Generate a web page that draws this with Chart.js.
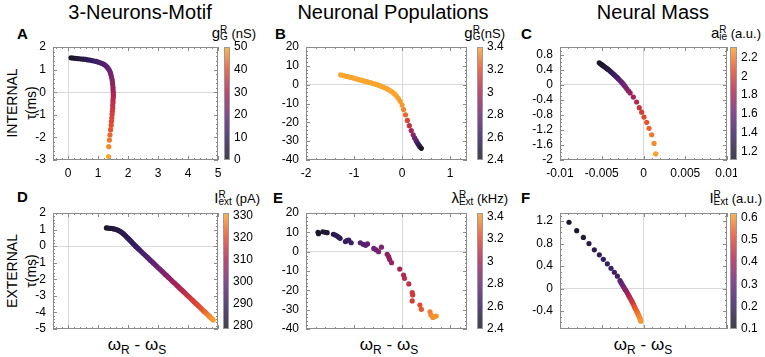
<!DOCTYPE html>
<html>
<head>
<meta charset="utf-8">
<script src="https://cdn.jsdelivr.net/npm/chart.js@4.4.1/dist/chart.umd.min.js"></script>
<style>
  body { margin:0; width:765px; height:357px; position:relative; overflow:hidden; background:#fff;
         font-family:'Liberation Sans', Arial, sans-serif; color:#000; }
  canvas { position:absolute; }
  .ttl { position:absolute; top:2px; font-size:20px; line-height:1; transform:translateX(-50%); white-space:nowrap; }
  .let { position:absolute; font-size:15px; font-weight:bold; line-height:1; }
  .cbl { position:absolute; font-size:13px; line-height:1; white-space:nowrap; }
  .cbl i { font-style:normal; font-size:15px; }
  .ss { display:inline-block; font-size:10px; line-height:7px; vertical-align:-2px; text-align:left; }
  .yl { position:absolute; font-size:14px; line-height:1; white-space:nowrap; transform:translate(-50%,-50%) rotate(-90deg); }
  .xl { position:absolute; top:336px; font-size:17px; line-height:1; white-space:nowrap; transform:translateX(-50%); }
  .xl sub { font-size:12px; vertical-align:-4px; line-height:0; }
</style>
</head>
<body>
<div class="ttl" style="left:140px">3-Neurons-Motif</div>
<div class="ttl" style="left:393px">Neuronal Populations</div>
<div class="ttl" style="left:653px">Neural Mass</div>

<div class="let" style="left:17px;top:26px">A</div>
<div class="let" style="left:275px;top:26px">B</div>
<div class="let" style="left:521px;top:26px">C</div>
<div class="let" style="left:17px;top:189px">D</div>
<div class="let" style="left:273px;top:190px">E</div>
<div class="let" style="left:521px;top:190px">F</div>

<div class="cbl" style="right:509px;top:25px"><i>g</i><span class="ss">R<br>G</span> (nS)</div>
<div class="cbl" style="right:260px;top:25px"><i>g</i><span class="ss">R<br>G</span>(nS)</div>
<div class="cbl" style="right:4px;top:25px"><i>a</i><span class="ss">R<br>ie</span> (a.u.)</div>
<div class="cbl" style="right:505px;top:190px"><i>I</i><span class="ss">R<br>ext</span> (pA)</div>
<div class="cbl" style="right:257px;top:190px"><i>λ</i><span class="ss">R<br>Ext</span> (kHz)</div>
<div class="cbl" style="right:3px;top:190px"><i>I</i><span class="ss">R<br>Ext</span> (a.u.)</div>

<div class="yl" style="left:12px;top:103px">INTERNAL</div>
<div class="yl" style="left:31px;top:103px">τ(ms)</div>
<div class="yl" style="left:12px;top:271px">EXTERNAL</div>
<div class="yl" style="left:31px;top:271px">τ(ms)</div>

<div class="xl" style="left:137px">ω<sub>R</sub> - ω<sub>S</sub></div>
<div class="xl" style="left:389px">ω<sub>R</sub> - ω<sub>S</sub></div>
<div class="xl" style="left:643px">ω<sub>R</sub> - ω<sub>S</sub></div>

<script>
// --- A : 3-neurons motif, internal (colour = g_G^R in nS)
var aX = [0.10,0.17,0.24,0.31,0.38,0.45,0.52,0.59,0.66,0.73,0.80,0.87,0.94,1.01,1.08,1.14,1.20,1.25,1.30,1.34,
          1.38,1.41,1.43,1.45,1.47,1.48,1.49,1.50,1.50,1.51,1.51,1.51,1.50,1.50,1.49,1.49,1.48,1.47,1.46,1.45,
          1.44,1.42,1.40,1.38,1.36,1.35];
var aY = [1.52,1.51,1.50,1.49,1.48,1.47,1.46,1.45,1.43,1.42,1.40,1.38,1.36,1.33,1.30,1.27,1.23,1.18,1.12,1.05,
          0.97,0.88,0.78,0.67,0.56,0.45,0.34,0.22,0.11,0.00,-0.11,-0.22,-0.34,-0.46,-0.58,-0.71,-0.84,-0.98,-1.13,-1.29,
          -1.46,-1.66,-1.89,-2.12,-2.41,-2.85];
var aC = [0,1,2,3,4,5,6,7,8,9,10,11,12,13,14,15,16,17,18,19,20,21,22,23,24,25,26,27,28,29,
          30,31,32,33,34,35,36,37,38,39,40,41,43,45,47,50];

// --- B : neuronal populations, internal (colour = g_G^R in nS)
var bX = [-1.28,-1.24,-1.20,-1.16,-1.12,-1.08,-1.04,-1.00,-0.96,-0.92,-0.88,-0.84,-0.80,-0.76,-0.72,-0.68,-0.64,
          -0.60,-0.56,-0.52,-0.48,-0.44,-0.40,-0.36,-0.32,-0.28,-0.24,-0.20,-0.16,-0.12,-0.08,-0.04,0.00,
          0.03,0.07,0.11,0.15,0.19,0.23,0.26,0.29,0.31,0.33,0.35,0.37,0.40];
var bY = [5.2,4.95,4.7,4.45,4.2,3.95,3.7,3.4,3.1,2.85,2.55,2.3,2.0,1.7,1.45,1.15,0.9,
          0.6,0.3,0.0,-0.4,-0.8,-1.2,-1.65,-2.15,-2.7,-3.3,-4.0,-4.9,-5.9,-7.2,-8.8,-10.8,
          -13.2,-16.0,-19.0,-21.8,-24.4,-26.6,-28.3,-29.6,-30.6,-31.4,-32.2,-32.9,-33.8];
var bC = [3.40,3.40,3.40,3.40,3.40,3.40,3.40,3.40,3.40,3.40,3.40,3.40,3.40,3.40,3.40,3.40,3.40,
          3.40,3.40,3.40,3.40,3.40,3.40,3.40,3.40,3.40,3.40,3.40,3.40,3.40,3.39,3.38,3.37,
          3.33,3.26,3.17,3.08,2.99,2.91,2.84,2.77,2.71,2.65,2.58,2.51,2.42];

// --- C : neural mass, internal (colour = a_ie^R)
var cX = [-0.0053,-0.00515,-0.0050,-0.00485,-0.0047,-0.00455,-0.0044,-0.00425,-0.0041,-0.00395,-0.0038,-0.00365,-0.0035,
          -0.00335,-0.0032,-0.00305,-0.0029,-0.00275,-0.0026,-0.00245,-0.0023,-0.00215,-0.0020,-0.0018,-0.0016,
          -0.00122,-0.00082,-0.0005,-0.00022,0.00006,0.00038,0.00066,0.00098,0.00126,0.00146];
var cY = [0.58,0.555,0.53,0.505,0.48,0.455,0.43,0.405,0.38,0.35,0.32,0.29,0.26,
          0.23,0.20,0.165,0.13,0.095,0.06,0.02,-0.02,-0.065,-0.11,-0.165,-0.22,
          -0.33,-0.46,-0.61,-0.73,-0.86,-1.00,-1.16,-1.33,-1.56,-1.84];
var cC = [1.10,1.12,1.13,1.15,1.17,1.19,1.21,1.23,1.26,1.28,1.31,1.34,1.37,
          1.40,1.43,1.46,1.49,1.52,1.55,1.58,1.61,1.64,1.67,1.70,1.74,
          1.81,1.87,1.93,1.99,2.04,2.09,2.14,2.19,2.24,2.30];

// --- D : 3-neurons motif, external (colour = I_ext^R in pA)
var dX = [1.28,1.33,1.38,1.43,1.48,1.53,1.58,1.63,1.68,1.73,1.78,1.83,1.88,1.93,1.98,
          2.01,2.04,2.07,2.10,2.13,2.17,2.20,2.24,2.27,2.31,
          2.35,2.40,2.45,2.50,2.55,2.60,2.65,2.70,2.75,2.80,2.85,2.90,2.95,3.00,3.05,3.10,3.15,3.20,3.25,3.30,3.35,3.40,
          3.45,3.50,3.55,3.60,3.65,3.70,3.75,3.80,3.85,3.90,3.95,4.00,4.05,4.10,4.15,4.20,4.25,4.30,4.35,4.40,4.45,4.50,
          4.54,4.58,4.62,4.66,4.70,4.73,4.76,4.79,4.82,4.84];
var dY = [1.10,1.09,1.08,1.07,1.06,1.04,1.02,0.99,0.95,0.90,0.84,0.77,0.69,0.60,0.51,
          0.46,0.40,0.35,0.29,0.23,0.16,0.10,0.03,-0.03,-0.10,
          -0.17,-0.25,-0.34,-0.43,-0.51,-0.60,-0.68,-0.77,-0.86,-0.94,-1.03,-1.11,-1.20,-1.29,-1.37,-1.46,-1.54,-1.63,-1.72,-1.80,-1.89,-1.97,
          -2.06,-2.15,-2.23,-2.32,-2.40,-2.49,-2.58,-2.66,-2.75,-2.83,-2.92,-3.01,-3.09,-3.18,-3.26,-3.35,-3.44,-3.52,-3.61,-3.69,-3.78,-3.87,
          -3.94,-4.00,-4.07,-4.14,-4.21,-4.26,-4.32,-4.37,-4.42,-4.46];
var dC = [280,280.5,281,281.5,282,282.5,283,283.5,284,284.5,285,285.5,286,286.5,287,
          287.3,287.6,287.9,288.2,288.5,288.8,289.1,289.4,289.7,290,
          290.6,291.3,292.0,292.8,293.5,294.2,295.0,295.7,296.4,297.2,297.9,298.6,299.3,300.1,300.8,301.5,302.3,303.0,303.7,304.5,305.2,305.9,
          306.6,307.4,308.1,308.8,309.6,310.3,311.0,311.8,312.5,313.2,313.9,314.7,315.4,316.1,316.9,317.6,318.3,319.1,319.8,320.5,321.2,322.0,
          323,324,325,326,326.8,327.5,328.2,328.9,329.5,330];

// --- E : neuronal populations, external (colour = lambda_Ext^R in kHz)
var eX = [-1.75,-1.74,-1.65,-1.60,-1.56,-1.43,-1.39,-1.35,-1.32,-1.29,-1.18,-1.15,-1.11,-1.06,-0.87,-0.81,-0.76,-0.72,-0.59,-0.54,
          -0.49,-0.43,-0.31,-0.28,-0.26,-0.22,-0.05,0.03,0.05,0.14,0.21,0.22,0.21,0.37,0.40,0.58,0.60,0.64,0.67,0.71];
var eY = [10.0,9.3,10.3,10.0,9.8,9.0,8.6,8.1,7.4,6.9,5.2,5.7,6.0,4.6,4.6,3.8,3.3,4.0,1.7,0.9,
          0.0,2.3,-1.4,-2.6,-4.0,-5.7,-9.0,-12.1,-13.8,-16.7,-21.2,-22.4,-25.5,-27.6,-29.8,-31.1,-32.8,-34.0,-33.6,-33.3];
var eC = [2.40,2.41,2.44,2.46,2.47,2.52,2.54,2.55,2.56,2.57,2.61,2.62,2.63,2.65,2.72,2.74,2.76,2.77,2.82,2.84,
          2.86,2.88,2.93,2.94,2.95,2.96,3.02,3.05,3.06,3.10,3.13,3.14,3.15,3.22,3.24,3.34,3.36,3.38,3.39,3.40];

// --- F : neural mass, external (colour = I_Ext^R)
var fX = [-0.00892,-0.0080,-0.0072,-0.00653,-0.00589,-0.00529,-0.00481,-0.00433,-0.00389,-0.00349,-0.00313,
          -0.00281,-0.00268,-0.00255,-0.00243,-0.00230,-0.00218,-0.00205,-0.00193,-0.00182,-0.00171,-0.00160,-0.00149,-0.00138,
          -0.00128,-0.00118,-0.00109,-0.00100,-0.00091,-0.00082,-0.00074,-0.00066,-0.00059,-0.00052,-0.00046,-0.00040,-0.00036,-0.00032];
var fY = [1.18,1.03,0.91,0.80,0.69,0.60,0.52,0.44,0.36,0.29,0.22,
          0.14,0.105,0.07,0.04,0.01,-0.02,-0.05,-0.08,-0.11,-0.14,-0.17,-0.20,-0.23,
          -0.26,-0.29,-0.32,-0.35,-0.375,-0.40,-0.425,-0.45,-0.475,-0.50,-0.52,-0.54,-0.56,-0.58];
var fC = [0.10,0.12,0.14,0.16,0.18,0.19,0.20,0.21,0.22,0.23,0.24,
          0.26,0.28,0.30,0.32,0.34,0.355,0.37,0.385,0.40,0.415,0.43,0.445,0.46,
          0.475,0.49,0.505,0.52,0.53,0.54,0.55,0.56,0.57,0.58,0.585,0.59,0.595,0.60];

// axis ticks
var tickX1 = [0,1,2,3,4,5];
var tickX2 = [-2,-1,0,1];
var tickX3 = [-0.01,-0.005,0,0.005,0.01];
var tickYA = [-3,-2,-1,0,1,2];
var tickYB = [-40,-30,-20,-10,0,10,20];
var tickYC = [-2,-1.6,-1.2,-0.8,-0.4,0,0.4,0.8];
var tickYD = [-5,-4,-3,-2,-1,0,1,2];
var tickYF = [-0.4,0,0.4,0.8,1.2];
// colour bar ticks
var cbTicksA = [0,10,20,30,40,50];
var cbTicksB = [2.4,2.6,2.8,3,3.2,3.4];
var cbTicksC = [1.2,1.4,1.6,1.8,2,2.2];
var cbTicksD = [280,290,300,310,320,330];
var cbTicksF = [0.1,0.2,0.3,0.4,0.5,0.6];

var FONT = "'Liberation Sans', Arial, sans-serif";
Chart.defaults.font.family = FONT;
Chart.defaults.color = '#000';

// colour palette (dark -> purple -> red -> orange)
var palette = [[0, 25, 22, 35], [0.2, 50, 30, 95], [0.4, 105, 35, 120], [0.6, 170, 35, 85], [0.8, 230, 75, 45], [1, 250, 165, 45]];
function cmap(t, alpha) {
  t = Math.max(0, Math.min(1, t));
  for (var i = 1; i < palette.length; i++) {
    if (t <= palette[i][0]) {
      var p = palette[i - 1], q = palette[i], f = (t - p[0]) / (q[0] - p[0]);
      return 'rgba(' + Math.round(p[1] + f * (q[1] - p[1])) + ',' + Math.round(p[2] + f * (q[2] - p[2])) + ',' +
        Math.round(p[3] + f * (q[3] - p[3])) + ',' + (alpha == null ? 1 : alpha) + ')';
    }
  }
}

function mkCanvas(l, t, w, h) {
  var cv = document.createElement('canvas');
  cv.width = w; cv.height = h;
  cv.style.left = l + 'px'; cv.style.top = t + 'px';
  document.body.appendChild(cv);
  return cv;
}

function zeroGrid(ctx) {
  return ctx.tick && ctx.tick.value === 0 ? '#d9d9d9' : 'rgba(0,0,0,0)';
}

// plot frame with inward major / minor ticks on all four sides
var framePlugin = {
  id: 'frame',
  afterDraw: function (chart, args, opts) {
    var c = chart.ctx, a = chart.chartArea;
    c.save();
    c.strokeStyle = '#8a8a8a';
    c.lineWidth = 1;
    function marks(scale, n, horiz) {
      var t = scale.ticks.map(function (k) { return k.value; });
      var step = (t[1] - t[0]) / n;
      var v = t[0] - Math.floor((t[0] - scale.min) / step + 1e-6) * step;
      for (; v <= scale.max + step * 1e-3; v += step) {
        var major = t.some(function (m) { return Math.abs(m - v) < step * 1e-3; });
        var len = major ? 4 : 2;
        var p = Math.round(scale.getPixelForValue(v)) + 0.5;
        c.beginPath();
        if (horiz) {
          c.moveTo(p, a.bottom); c.lineTo(p, a.bottom - len);
          c.moveTo(p, a.top); c.lineTo(p, a.top + len);
        } else {
          c.moveTo(a.left, p); c.lineTo(a.left + len, p);
          c.moveTo(a.right, p); c.lineTo(a.right - len, p);
        }
        c.stroke();
      }
    }
    marks(chart.scales.x, opts.mx, true);
    marks(chart.scales.y, opts.my, false);
    c.strokeRect(a.left + 0.5, a.top + 0.5, a.right - a.left - 1, a.bottom - a.top - 1);
    c.restore();
  }
};

var PL = 50, PR = 10, PT = 10, PB = 25;

function panel(p) {
  var w = p.box[2] - p.box[0], h = p.box[3] - p.box[1];
  var cv = mkCanvas(p.box[0] - PL, p.box[1] - PT, w + PL + PR, h + PT + PB);
  var pts = p.x.map(function (v, i) { return { x: v, y: p.y[i] }; });
  new Chart(cv, {
    type: 'scatter',
    data: {
      datasets: [{
        data: pts,
        pointRadius: 2.6,
        pointHoverRadius: 2.6,
        pointBorderWidth: 0,
        pointBackgroundColor: function (ctx) {
          return cmap((p.c[ctx.dataIndex] - p.cr[0]) / (p.cr[1] - p.cr[0]));
        }
      }]
    },
    options: {
      animation: false, responsive: false, devicePixelRatio: 1, events: [],
      layout: { padding: { left: 0, top: PT, right: PR, bottom: 0 } },
      plugins: { legend: { display: false }, tooltip: { enabled: false }, frame: { mx: p.mx, my: p.my } },
      scales: {
        x: {
          type: 'linear', min: p.xr[0], max: p.xr[1],
          afterBuildTicks: function (s) { s.ticks = p.xt.map(function (v) { return { value: v }; }); },
          afterFit: function (s) { s.height = PB; s.paddingLeft = 0; s.paddingRight = 0; },
          grid: { color: zeroGrid, drawTicks: false },
          border: { display: false },
          ticks: { display: p.xlab, padding: 6, autoSkip: false, maxRotation: 0, font: { size: 12 },
                   callback: function (v) { return String(v); } }
        },
        y: {
          type: 'linear', min: p.yr[0], max: p.yr[1],
          afterBuildTicks: function (s) { s.ticks = p.yt.map(function (v) { return { value: v }; }); },
          afterFit: function (s) { s.width = PL; s.paddingTop = 0; s.paddingBottom = 0; },
          grid: { color: zeroGrid, drawTicks: false },
          border: { display: false },
          ticks: { padding: 7, autoSkip: false, font: { size: 12 },
                   callback: function (v) { return String(v); } }
        }
      }
    },
    plugins: [framePlugin]
  });
}

var cbFrame = {
  id: 'cbframe',
  afterDraw: function (chart) {
    var c = chart.ctx, a = chart.chartArea;
    c.save();
    c.strokeStyle = '#9a9a9a';
    c.lineWidth = 1;
    c.strokeRect(a.left + 0.5, a.top + 0.5, a.right - a.left - 1, a.bottom - a.top - 1);
    c.restore();
  }
};

function colorbar(cb) {
  var w = cb.box[2] - cb.box[0], h = cb.box[3] - cb.box[1];
  var cv = mkCanvas(cb.box[0], cb.box[1] - 10, w + 34, h + 20);
  new Chart(cv, {
    type: 'bar',
    data: {
      labels: [''],
      datasets: [{
        data: [[cb.range[0], cb.range[1]]],
        barPercentage: 1, categoryPercentage: 1, borderWidth: 0,
        backgroundColor: function (ctx) {
          var a = ctx.chart.chartArea;
          if (!a) return 'rgba(0,0,0,0)';
          var g = ctx.chart.ctx.createLinearGradient(0, a.bottom, 0, a.top);
          palette.forEach(function (s) { g.addColorStop(s[0], cmap(s[0], 0.82)); });
          return g;
        }
      }]
    },
    options: {
      animation: false, responsive: false, devicePixelRatio: 1, events: [],
      layout: { padding: { top: 10, bottom: 10, left: 0, right: 0 } },
      plugins: { legend: { display: false }, tooltip: { enabled: false } },
      scales: {
        x: { display: false },
        y: {
          position: 'right', min: cb.range[0], max: cb.range[1],
          afterBuildTicks: function (s) { s.ticks = cb.ticks.map(function (v) { return { value: v }; }); },
          afterFit: function (s) { s.width = 34; s.paddingTop = 0; s.paddingBottom = 0; },
          grid: { display: false, drawTicks: false },
          border: { display: false },
          ticks: { padding: 4, autoSkip: false, font: { size: 12 }, callback: function (v) { return String(v); } }
        }
      }
    },
    plugins: [cbFrame]
  });
}

panel({ box: [53, 47, 218, 160], x: aX, y: aY, c: aC, cr: [0, 50], xr: [-0.5, 5], yr: [-3, 2], xt: tickX1, yt: tickYA, xlab: true, mx: 5, my: 5 });
panel({ box: [306, 47, 467, 160], x: bX, y: bY, c: bC, cr: [2.4, 3.4], xr: [-2, 1.35], yr: [-40, 20], xt: tickX2, yt: tickYB, xlab: true, mx: 5, my: 5 });
panel({ box: [560, 47, 727, 160], x: cX, y: cY, c: cC, cr: [1.11, 2.31], xr: [-0.01, 0.01], yr: [-2, 1], xt: tickX3, yt: tickYC, xlab: true, mx: 5, my: 4 });
panel({ box: [53, 213, 218, 329], x: dX, y: dY, c: dC, cr: [278.6, 331.2], xr: [-0.5, 5], yr: [-5, 2], xt: tickX1, yt: tickYD, xlab: false, mx: 5, my: 5 });
panel({ box: [306, 213, 467, 329], x: eX, y: eY, c: eC, cr: [2.4, 3.43], xr: [-2, 1.35], yr: [-40, 20], xt: tickX2, yt: tickYB, xlab: false, mx: 5, my: 5 });
panel({ box: [560, 213, 727, 329], x: fX, y: fY, c: fC, cr: [0.1, 0.62], xr: [-0.01, 0.01], yr: [-0.72, 1.345], xt: tickX3, yt: tickYF, xlab: false, mx: 5, my: 4 });

colorbar({ box: [224, 47, 230, 160], range: [0, 50], ticks: cbTicksA });
colorbar({ box: [477, 47, 483, 160], range: [2.4, 3.4], ticks: cbTicksB });
colorbar({ box: [730, 47, 737, 160], range: [1.11, 2.31], ticks: cbTicksC });
colorbar({ box: [223, 213, 229, 329], range: [278.6, 331.2], ticks: cbTicksD });
colorbar({ box: [477, 213, 483, 329], range: [2.4, 3.43], ticks: cbTicksB });
colorbar({ box: [730, 213, 737, 329], range: [0.1, 0.62], ticks: cbTicksF });
</script>
</body>
</html>
